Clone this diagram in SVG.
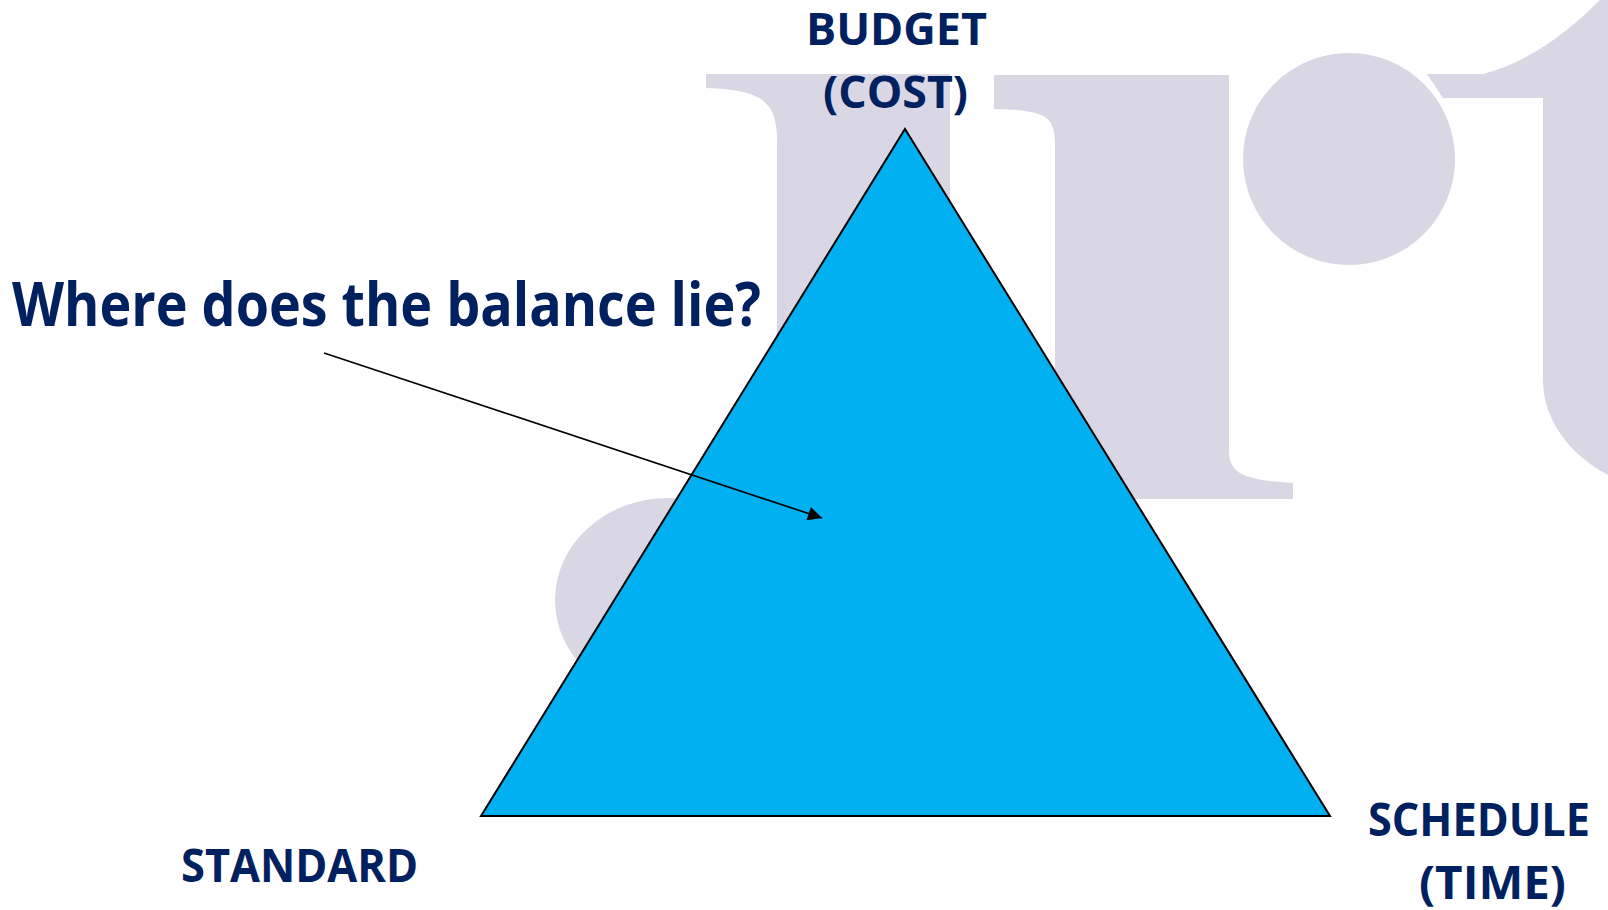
<svg xmlns="http://www.w3.org/2000/svg" width="1608" height="910" viewBox="0 0 1608 910">
  <style>
    .wm { fill: #D9D7E3; stroke: none; }
    .lbl { font-family: "Open Sans", "Liberation Sans", sans-serif; font-weight: 700; fill: #002060; }
    .tri { fill: #00B0F0; stroke: #000000; stroke-width: 2; stroke-linejoin: miter; }
    .conn { stroke: #000000; stroke-width: 1.6; fill: none; }
  </style>
  <defs>
    <marker id="arrow" viewBox="0 0 10 10" refX="10" refY="5" markerUnits="userSpaceOnUse" markerWidth="20" markerHeight="14" orient="auto">
      <path d="M0,0 L10,5 L0,10 Z" fill="#000000"/>
    </marker>
  </defs>
  <rect x="0" y="0" width="1608" height="910" fill="#FFFFFF"/>
  <g id="watermark">
    <path class="wm" d="M706,74 L950,74 L950,760 L777,760 L777,140 C777,100 760,90 706,88 Z"/>
    <ellipse class="wm" cx="668" cy="600" rx="113" ry="102"/>
    <path class="wm" d="M994,75 L1229,75 L1229,450 C1229,472 1240,480 1293,483 L1293,499 L1000,499 L1000,480 L1055,470 L1055,145 C1055,115 1045,110 994,109 Z"/>
    <circle class="wm" cx="1349" cy="159" r="106"/>
    <path class="wm" d="M1427,74 L1483,74 C1530,62 1570,30 1600,0 L1608,0 L1608,475 C1570,455 1543,420 1543,380 L1543,98 L1443,98 Z"/>
  </g>
  <g id="triangle">
    <polygon class="tri" points="905,129 1330,816 481,816"/>
  </g>
  <g id="label-budget">
    <text class="lbl" x="806" y="45" font-size="45" textLength="181" lengthAdjust="spacingAndGlyphs">BUDGET</text>
    <text class="lbl" x="823" y="108" font-size="44" textLength="145" lengthAdjust="spacingAndGlyphs">(COST)</text>
  </g>
  <g id="label-standard">
    <text class="lbl" x="181" y="882" font-size="46" textLength="237" lengthAdjust="spacingAndGlyphs">STANDARD</text>
  </g>
  <g id="label-schedule">
    <text class="lbl" x="1368" y="836" font-size="46" textLength="222" lengthAdjust="spacingAndGlyphs">SCHEDULE</text>
    <text class="lbl" x="1419" y="899" font-size="46" textLength="147" lengthAdjust="spacingAndGlyphs">(TIME)</text>
  </g>
  <g id="label-question">
    <text class="lbl" x="12" y="326" font-size="60" textLength="749" lengthAdjust="spacingAndGlyphs">Where does the balance lie?</text>
  </g>
  <g id="connectors">
    <line class="conn" x1="324" y1="353" x2="822" y2="518" marker-end="url(#arrow)"/>
  </g>
</svg>
